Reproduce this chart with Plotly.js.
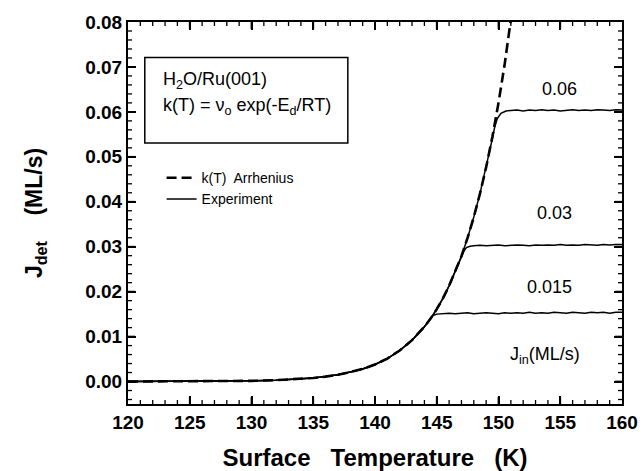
<!DOCTYPE html>
<html>
<head>
<meta charset="utf-8">
<script src="https://cdn.plot.ly/plotly-3.0.1.min.js"></script>
</head>
<body style="margin:0">
<div id="chart" style="width:644px;height:471px;"></div>
<script>
// Arrhenius k(T) curve
var arrT = [120, 122, 124, 126, 128, 130, 132, 134, 135, 136, 137, 138, 139, 140, 141, 142, 143, 144, 144.5, 145, 145.5, 146, 146.5, 147, 147.5, 148, 148.5, 149, 149.5, 150, 150.5, 151, 151.2];
var arrJ = [0.0000, 0.0000, 0.0000, 0.0001, 0.0001, 0.00015, 0.0003, 0.0006, 0.0008, 0.0011, 0.0015, 0.0021, 0.0028, 0.0038, 0.0051, 0.0069, 0.0092, 0.0122, 0.0140, 0.0161, 0.0185, 0.0213, 0.0244, 0.0279, 0.0320, 0.0366, 0.0418, 0.0477, 0.0544, 0.0620, 0.0706, 0.0803, 0.0845];

// Experiment, Jin = 0.015 ML/s
var e015T = [120, 122, 124, 126, 128, 130, 132, 134, 135, 136, 137, 138, 139, 140, 141, 142, 143, 144, 144.4, 144.7, 145.0, 145.5, 146, 146.5, 147, 147.5, 148, 148.5, 149, 149.5, 150, 150.5, 151, 151.5, 152, 152.5, 153, 153.5, 154, 154.5, 155, 155.5, 156, 156.5, 157, 157.5, 158, 158.5, 159, 159.5, 160];
var e015J = [0.0000, 0.0000, 0.0000, 0.0001, 0.0001, 0.00015, 0.0003, 0.0006, 0.0008, 0.0011, 0.0015, 0.0021, 0.0028, 0.0038, 0.0051, 0.0069, 0.0092, 0.0122, 0.0137, 0.0147, 0.0150, 0.0151, 0.0152, 0.0151, 0.0152, 0.0153, 0.0151, 0.0152, 0.0153, 0.0152, 0.0151, 0.0153, 0.0152, 0.0153, 0.0152, 0.0154, 0.0152, 0.0153, 0.0152, 0.0154, 0.0153, 0.0152, 0.0154, 0.0153, 0.0152, 0.0154, 0.0153, 0.0154, 0.0152, 0.0154, 0.0154];

// Experiment, Jin = 0.03 ML/s
var e03T = [120, 122, 124, 126, 128, 130, 132, 134, 135, 136, 137, 138, 139, 140, 141, 142, 143, 144, 144.5, 145, 145.5, 146, 146.5, 147, 147.2, 147.4, 147.7, 148, 148.5, 149, 149.5, 150, 150.5, 151, 151.5, 152, 152.5, 153, 153.5, 154, 154.5, 155, 155.5, 156, 156.5, 157, 157.5, 158, 158.5, 159, 159.5, 160];
var e03J = [0.0000, 0.0000, 0.0000, 0.0001, 0.0001, 0.00015, 0.0003, 0.0006, 0.0008, 0.0011, 0.0015, 0.0021, 0.0028, 0.0038, 0.0051, 0.0069, 0.0092, 0.0122, 0.0140, 0.0161, 0.0185, 0.0213, 0.0244, 0.0278, 0.0290, 0.0298, 0.0301, 0.0302, 0.0303, 0.0302, 0.0303, 0.0304, 0.0302, 0.0303, 0.0304, 0.0303, 0.0302, 0.0304, 0.0303, 0.0304, 0.0303, 0.0305, 0.0303, 0.0304, 0.0303, 0.0305, 0.0304, 0.0303, 0.0305, 0.0304, 0.0305, 0.0305];

// Experiment, Jin = 0.06 ML/s
var e06T = [120, 122, 124, 126, 128, 130, 132, 134, 135, 136, 137, 138, 139, 140, 141, 142, 143, 144, 144.5, 145, 145.5, 146, 146.5, 147, 147.5, 148, 148.5, 149, 149.5, 149.7, 149.9, 150.2, 150.6, 151, 151.5, 152, 152.5, 153, 153.5, 154, 154.5, 155, 155.5, 156, 156.5, 157, 157.5, 158, 158.5, 159, 159.5, 160];
var e06J = [0.0000, 0.0000, 0.0000, 0.0001, 0.0001, 0.00015, 0.0003, 0.0006, 0.0008, 0.0011, 0.0015, 0.0021, 0.0028, 0.0038, 0.0051, 0.0069, 0.0092, 0.0122, 0.0140, 0.0161, 0.0185, 0.0213, 0.0244, 0.0279, 0.0320, 0.0366, 0.0418, 0.0477, 0.0540, 0.0567, 0.0585, 0.0597, 0.0602, 0.0603, 0.0604, 0.0602, 0.0604, 0.0603, 0.0605, 0.0603, 0.0604, 0.0602, 0.0604, 0.0605, 0.0603, 0.0604, 0.0603, 0.0605, 0.0604, 0.0603, 0.0605, 0.0604];

// In-plot labels (incoming flux, ML/s)
var jinLabels = ['0.06', '0.03', '0.015'];
var jinLabelX = [154.95, 154.55, 154.15];
var jinLabelY = [0.0652, 0.0374, 0.0210];

// Axis ranges and tick steps
var XRANGE = [120, 160];
var YRANGE = [-0.005, 0.08];
var X_MAJOR = 5, X_MINOR = 1;
var Y_MAJOR = 0.01, Y_MINOR = 0.002;

var FONT = 'Liberation Sans, Arial, Helvetica, sans-serif';

var traces = [
  {x: arrT, y: arrJ, mode: 'lines', name: 'k(T)  Arrhenius',
   line: {color: 'black', width: 2.6, dash: '10px,5px'}},
  {x: e015T, y: e015J, mode: 'lines', name: 'Experiment', line: {color: 'black', width: 1.5}},
  {x: e03T, y: e03J, mode: 'lines', name: 'Experiment', showlegend: false, line: {color: 'black', width: 1.5}},
  {x: e06T, y: e06J, mode: 'lines', name: 'Experiment', showlegend: false, line: {color: 'black', width: 1.5}}
];

// Inside tick marks on all four sides, drawn in data units through the axes' scales
var PLOT_W = 644 - 128 - 22, PLOT_H = 471 - 22 - 67;
var xPerPx = (XRANGE[1] - XRANGE[0]) / PLOT_W, yPerPx = (YRANGE[1] - YRANGE[0]) / PLOT_H;
var tickSets = {major: {x: [], y: []}, minor: {x: [], y: []}};
function addXTick(v, lenPx, set) {
  var L = lenPx * yPerPx;
  set.x.push(v, v, null, v, v, null);
  set.y.push(YRANGE[0], YRANGE[0] + L, null, YRANGE[1], YRANGE[1] - L, null);
}
function addYTick(v, lenPx, set) {
  var L = lenPx * xPerPx;
  set.x.push(XRANGE[0], XRANGE[0] + L, null, XRANGE[1], XRANGE[1] - L, null);
  set.y.push(v, v, null, v, v, null);
}
var nx = Math.round((XRANGE[1] - XRANGE[0]) / X_MINOR);
for (var k = 1; k < nx; k++) {
  var xv = XRANGE[0] + k * X_MINOR;
  var isMajor = Math.abs(xv / X_MAJOR - Math.round(xv / X_MAJOR)) < 1e-6;
  addXTick(xv, isMajor ? 7 : 4, isMajor ? tickSets.major : tickSets.minor);
}
var ky0 = Math.ceil(YRANGE[0] / Y_MINOR + 1e-6), ky1 = Math.floor(YRANGE[1] / Y_MINOR - 1e-6);
for (var m = ky0; m <= ky1; m++) {
  var yv = m * Y_MINOR;
  var isMaj = (m % 5) === 0;
  addYTick(yv, isMaj ? 7 : 4, isMaj ? tickSets.major : tickSets.minor);
}
traces.push({x: tickSets.major.x, y: tickSets.major.y, mode: 'lines', showlegend: false, hoverinfo: 'skip',
  connectgaps: false, line: {color: 'black', width: 1.8}});
traces.push({x: tickSets.minor.x, y: tickSets.minor.y, mode: 'lines', showlegend: false, hoverinfo: 'skip',
  connectgaps: false, line: {color: 'black', width: 1.3}});

var annotations = [
  {xref: 'paper', yref: 'paper', x: 0.066, y: 0.846, xanchor: 'left', yanchor: 'middle', showarrow: false,
   text: 'H<sub>2</sub>O/Ru(001)', font: {family: FONT, size: 18, color: 'black'}},
  {xref: 'paper', yref: 'paper', x: 0.066, y: 0.778, xanchor: 'left', yanchor: 'middle', showarrow: false,
   text: 'k(T) = ν<sub>o</sub> exp(-E<sub>d</sub>/RT)', font: {family: FONT, size: 18, color: 'black'}},
  {xref: 'x', yref: 'paper', x: 153.75, y: 0.128, xanchor: 'center', yanchor: 'middle', showarrow: false,
   text: 'J<sub>in</sub>(ML/s)', font: {family: FONT, size: 18, color: 'black'}}
];
for (var i = 0; i < jinLabels.length; i++) {
  annotations.push({xref: 'x', yref: 'y', x: jinLabelX[i], y: jinLabelY[i], xanchor: 'center', yanchor: 'middle',
    showarrow: false, text: jinLabels[i], font: {family: FONT, size: 18, color: 'black'}});
}

var layout = {
  width: 644, height: 471,
  margin: {l: 128, r: 22, t: 22, b: 67},
  showlegend: true,
  legend: {x: 0.068, y: 0.633, xanchor: 'left', yanchor: 'top', bgcolor: 'rgba(0,0,0,0)',
           font: {family: FONT, size: 14, color: 'black'}, tracegroupgap: 0},
  xaxis: {
    range: XRANGE, dtick: X_MAJOR,
    ticks: 'inside', ticklen: 8, tickwidth: 2, tickcolor: 'black',
    showline: true, linewidth: 2, linecolor: 'black', mirror: 'ticks',
    gridcolor: 'rgba(0,0,0,0)', zerolinecolor: 'rgba(0,0,0,0)',
    tickfont: {family: FONT, size: 19, weight: 'bold', color: 'black'},
    title: {text: 'Surface   Temperature   (K)', standoff: 17,
            font: {family: FONT, size: 24, weight: 'bold', color: 'black'}}
  },
  yaxis: {
    range: YRANGE, dtick: Y_MAJOR, tickformat: '.2f',
    ticks: 'inside', ticklen: 8, tickwidth: 2, tickcolor: 'black',
    showline: true, linewidth: 2, linecolor: 'black', mirror: 'ticks',
    gridcolor: 'rgba(0,0,0,0)', zerolinecolor: 'rgba(0,0,0,0)',
    tickfont: {family: FONT, size: 19, weight: 'bold', color: 'black'},
    title: {text: 'J<sub>det</sub>    (ML/s)', standoff: 36,
            font: {family: FONT, size: 23, weight: 'bold', color: 'black'}}
  },
  shapes: [
    {type: 'rect', xref: 'paper', yref: 'paper', x0: 0.034, x1: 0.445, y0: 0.6835, y1: 0.907,
     line: {color: 'black', width: 1.5}}
  ],
  annotations: annotations
};

Plotly.newPlot('chart', traces, layout, {displayModeBar: false});
</script>
</body>
</html>
